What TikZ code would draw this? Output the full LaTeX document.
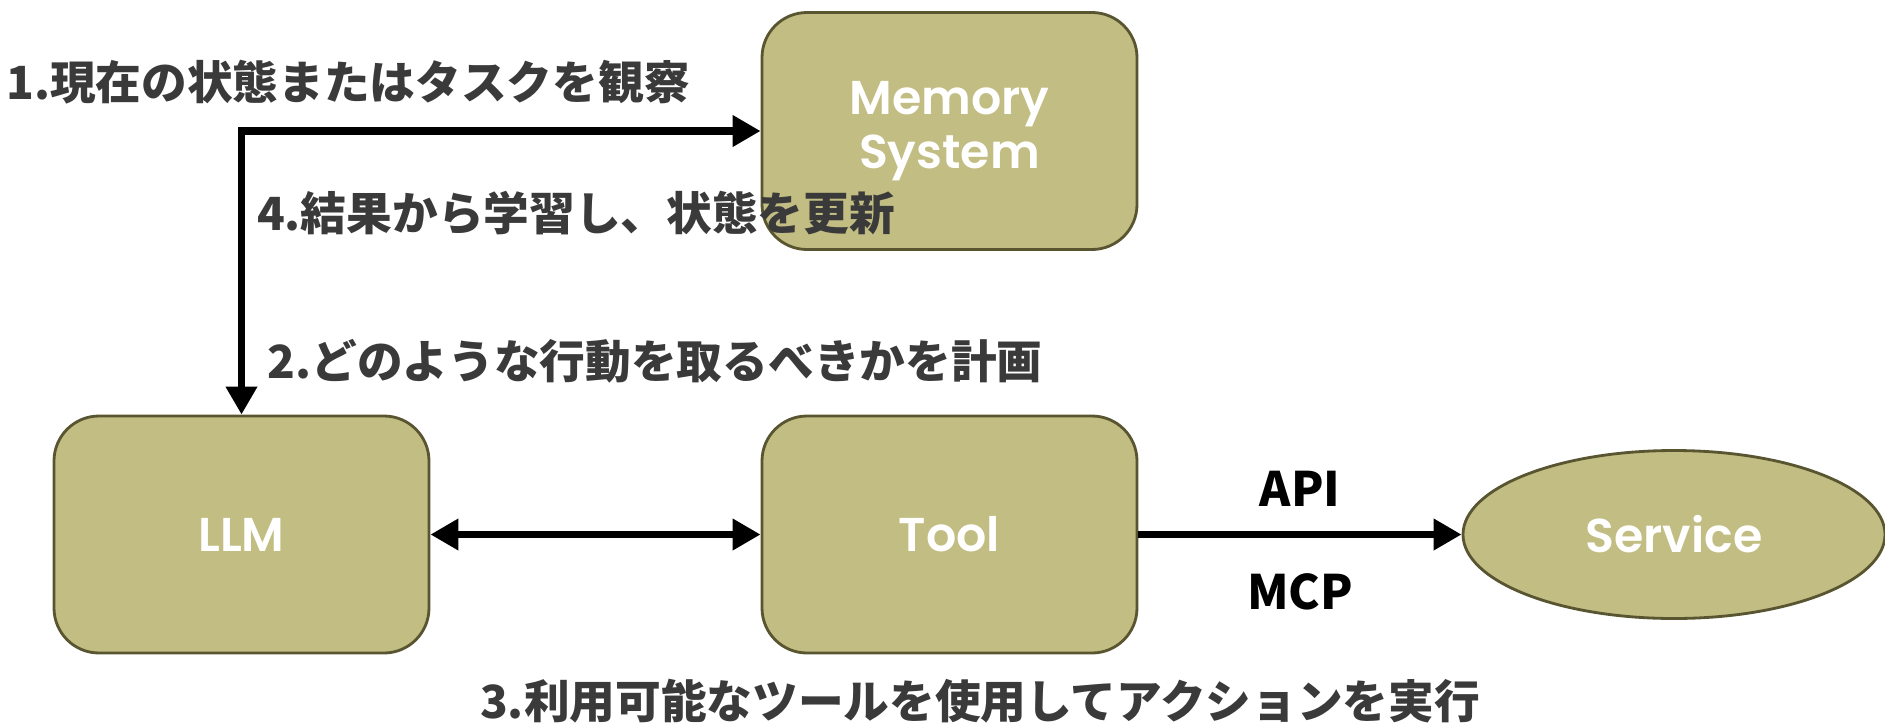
\documentclass[tikz,border=0pt]{standalone}
\usepackage{fontspec}
\newfontfamily\jpfont{Noto Sans CJK JP}
\newfontfamily\boxfont{Poppins SemiBold}
\usetikzlibrary{positioning,arrows.meta,shapes.geometric}
\definecolor{boxfill}{RGB}{194,189,130}
\definecolor{boxline}{RGB}{88,85,48}
\definecolor{stepgray}{RGB}{58,58,58}
\tikzset{
  block/.style={draw=boxline, fill=boxfill, line width=0.8pt, rounded corners=0.45cm,
    minimum width=3.75cm, minimum height=2.37cm, align=center, text=white,
    font=\boxfont\fontsize{13.5}{15.5}\selectfont},
  svcshape/.style={ellipse, draw=boxline, fill=boxfill, line width=0.8pt, inner sep=0pt,
    minimum width=4.22cm, minimum height=1.68cm, text=white,
    font=\boxfont\fontsize{13.5}{15.5}\selectfont},
  flow/.style={line width=2.2pt, -{Triangle[length=0.28cm,width=0.3cm]}},
  steptext/.style={text=stepgray, inner sep=0pt, font=\jpfont\bfseries\fontsize{13}{15}\selectfont},
  apitext/.style={text=black, inner sep=0pt, anchor=center, font=\jpfont\bfseries\fontsize{13.5}{15}\selectfont},
}

\begin{document}
\begin{tikzpicture}[node distance=7.08cm, auto]
			\useasboundingbox (0,0) rectangle (18.85,-7.27);
			\node (llm) 	[block]											at (2.415,-5.345) {LLM};
			\node (tool) 	[block, right of=llm]										{Tool};
		  \node (mem) 	[block, above of=tool, node distance=4.035cm]	{Memory\\System};
		  \node (svc) 	[svcshape, right of=tool, node distance=7.245cm]	{Service};
		  %
		  \draw[flow, {Triangle[length=0.28cm,width=0.3cm]}-{Triangle[length=0.28cm,width=0.3cm]}]
		  																(llm.north)	|- 	(mem.west);
		  \draw[flow, {Triangle[length=0.28cm,width=0.3cm]}-{Triangle[length=0.28cm,width=0.3cm]}]
		  																(llm)		to 	(tool);
		  \draw[flow]											(tool)	to 	node[apitext, midway, yshift=0.46cm] (api) {API}
		  																		node[apitext, midway, yshift=-0.57cm] (mcp) {MCP} 	(svc);
		  %
		  \node (obs) 	[steptext]	at (3.48,-0.82)	{1.現在の状態またはタスクを観察};
		  \node (learn)	[steptext]	at (5.76,-2.13)	{4.結果から学習し、状態を更新};
		  \node (plan) 	[steptext]	at (6.55,-3.61)	{2.どのような行動を取るべきかを計画};
		  \node (act) 	[steptext]	at (9.80,-7.01)	{3.利用可能なツールを使用してアクションを実行};
		\end{tikzpicture}
\end{document}
